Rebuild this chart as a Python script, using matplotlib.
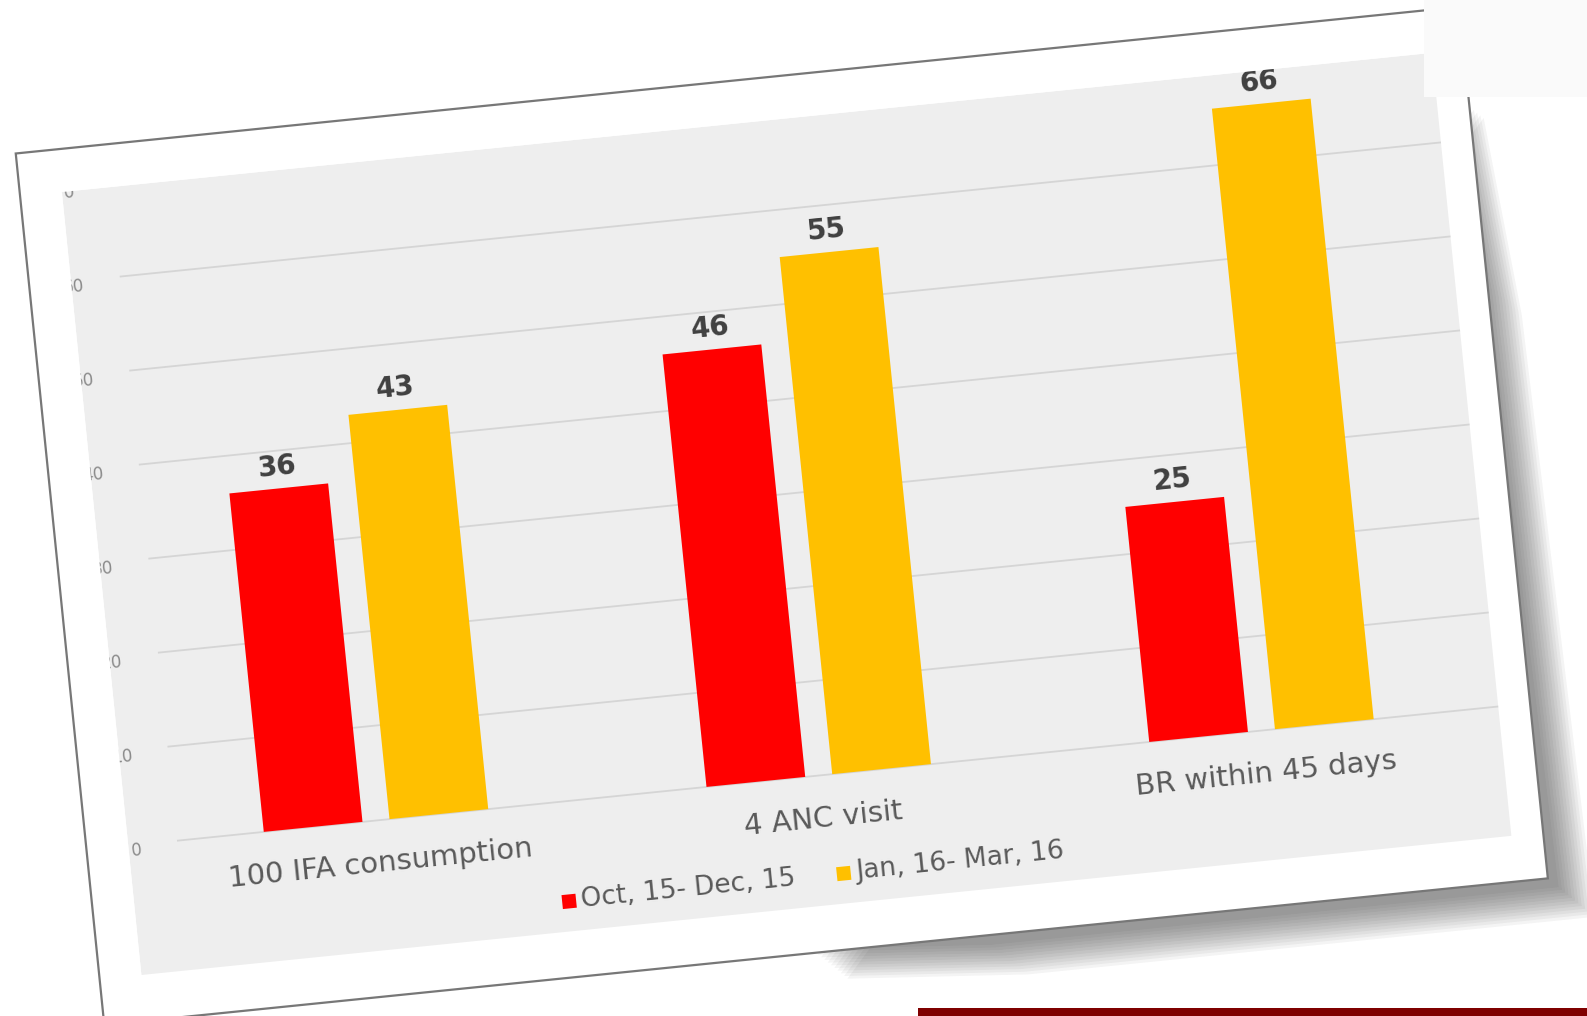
import matplotlib.pyplot as plt
import numpy as np
from matplotlib.patches import Rectangle, Polygon
from matplotlib.transforms import Affine2D

# data
categories = ["100 IFA consumption", "4 ANC visit", "BR within 45 days"]
series_names = ["Oct, 15- Dec, 15", "Jan, 16- Mar, 16"]
oct_dec = [36, 46, 25]
jan_mar = [43, 55, 66]
y_ticks = [0, 10, 20, 30, 40, 50, 60, 70]
colors = ["#FF0000", "#FFC000"]

TILT = 5.8      # the photographed slide is turned a bit
PX_X = 445.0    # pixels per category
PX_Y = 9.45     # pixels per value unit

W, H = 1587, 1016
fig = plt.figure(figsize=(W / 100, H / 100), dpi=100)
ax_left = 376 - 0.75 * PX_X
ax_bottom = 195.5 - 20 * PX_Y
ax = fig.add_axes([ax_left / W, ax_bottom / H, 3.5 * PX_X / W, 95 * PX_Y / H])
ax.set_xlim(-0.75, 2.75)
ax.set_ylim(-20, 75)
ax.set_axis_off()

cx, cy = ax.transData.transform((0, 0))
tr = ax.transData + Affine2D().rotate_deg_around(cx, cy, TILT)


def px(u, v):
    # pixel offsets in the tilted frame -> data units
    return u / PX_X, v / PX_Y


# *** shadow, card and grey plot area
shadow_uv = [(1140, 620), (1158, 420), (1170, -186), (600, -186), (420, -172)]
for k in range(12):
    pts = [px(u + k * 3.0, v - k * 3.0) for u, v in shadow_uv]
    sh = Polygon(pts, closed=True, facecolor="#3a3a3a", edgecolor="none",
                 alpha=0.055, transform=tr, clip_on=False, zorder=0)
    ax.add_patch(sh)

card_u, card_v = (-291, 1160), (-176, 700)
x0, y0 = px(card_u[0], card_v[0])
card = Rectangle((x0, y0), (card_u[1] - card_u[0]) / PX_X, (card_v[1] - card_v[0]) / PX_Y,
                 facecolor="white", edgecolor="#777777", lw=1.6, transform=tr,
                 clip_on=False, zorder=1)
ax.add_patch(card)

pan_u, pan_v = (-249, 1128), (-130, 657)
x0, y0 = px(pan_u[0], pan_v[0])
panel = Rectangle((x0, y0), (pan_u[1] - pan_u[0]) / PX_X, (pan_v[1] - pan_v[0]) / PX_Y,
                  facecolor="#EEEEEE", edgecolor="none", transform=tr,
                  clip_on=False, zorder=1.5)
ax.add_patch(panel)

grid = ax.hlines(y_ticks, -200 / PX_X, pan_u[1] / PX_X, colors="#D5D5D5", lw=1.3, zorder=2)
grid.set_transform(tr)
grid.set_clip_on(False)

for t in y_ticks:
    ax.text(-236 / PX_X, t - 0.6, str(t), ha="right", va="center", fontsize=12,
            color="#8A8A8A", rotation=TILT, rotation_mode="anchor",
            transform=tr, zorder=5)

# white card margin hides the part of the axis labels that falls off the plot area
for (u0, u1), (v0, v1) in [((card_u[0] + 2, pan_u[0]), (card_v[0] + 2, card_v[1] - 2)),
                           ((card_u[0] + 2, card_u[1] - 2), (pan_v[1], card_v[1] - 2))]:
    mx, my = px(u0, v0)
    ax.add_patch(Rectangle((mx, my), (u1 - u0) / PX_X, (v1 - v0) / PX_Y, facecolor="white",
                           edgecolor="none", transform=tr, clip_on=False, zorder=6))

# *** bars
x = np.arange(len(categories))
offsets = [-0.142, 0.142]
for vals, off, col in zip([oct_dec, jan_mar], offsets, colors):
    bars = ax.bar(x + off, vals, width=0.223, color=col, zorder=3)
    for b, val in zip(bars, vals):
        b.set_transform(tr)
        b.set_clip_on(False)
        ax.text(b.get_x() + b.get_width() / 2, val + 2.3, str(val), ha="center",
                va="center", fontsize=20, fontweight="bold", color="#404040",
                rotation=TILT, rotation_mode="anchor", transform=tr, zorder=5)

for i, cat in enumerate(categories):
    ax.text(i, -4.6, cat, ha="center", va="center", fontsize=21, color="#595959",
            rotation=TILT, rotation_mode="anchor", transform=tr, zorder=5)

# *** legend (drawn by hand so it tilts with the rest)
leg_u = [184, 460]
for u, name, col in zip(leg_u, series_names, colors):
    sx, sy = px(u - 7, -107)
    ax.add_patch(Rectangle((sx, sy), 14 / PX_X, 14 / PX_Y, facecolor=col,
                           edgecolor="none", transform=tr, clip_on=False, zorder=5))
    tx, ty = px(u + 12, -100)
    ax.text(tx, ty, name, ha="left", va="center", fontsize=19, color="#595959",
            rotation=TILT, rotation_mode="anchor", transform=tr, zorder=5)

# *** bits of the slide around the picture
fig.add_artist(Rectangle((1424 / W, 1 - 97 / H), 163 / W, 97 / H, facecolor="#FAFAFA",
                         edgecolor="none", transform=fig.transFigure, zorder=10))
fig.add_artist(Rectangle((918 / W, 0), 669 / W, 8 / H, facecolor="#7F0000",
                         edgecolor="none", transform=fig.transFigure, zorder=10))

fig.savefig("out.png", dpi=100)
